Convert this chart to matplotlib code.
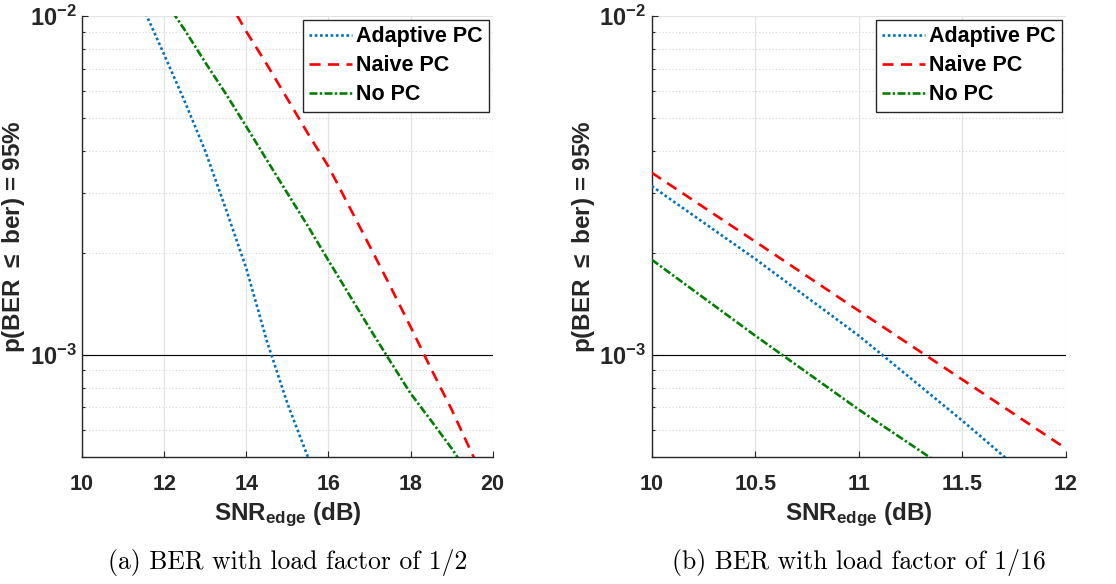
import numpy as np
import matplotlib
matplotlib.use('Agg')
import matplotlib.pyplot as plt
from matplotlib.ticker import FixedLocator, NullFormatter

plt.rcParams['font.family'] = ['Liberation Sans', 'DejaVu Sans']
plt.rcParams['font.weight'] = 'bold'
plt.rcParams['mathtext.fontset'] = 'custom'
plt.rcParams['mathtext.rm'] = 'Liberation Sans:bold'
plt.rcParams['mathtext.bf'] = 'Liberation Sans:bold'
plt.rcParams['mathtext.it'] = 'Liberation Sans:bold'

# (a) load factor 1/2
snr_a_adapt = [11.5, 12.0, 12.5, 13.0, 13.5, 14.0, 14.5, 15.0, 15.5]
ber_a_adapt = [1.05e-2, 7.7e-3, 5.6e-3, 4.0e-3, 2.7e-3, 1.8e-3, 1.1e-3, 7.2e-4, 5.0e-4]
snr_a_naive = [13.5, 14.0, 14.5, 15.0, 15.5, 16.0, 16.5, 17.0, 17.5, 18.0, 18.5, 19.0, 19.5, 20.0]
ber_a_naive = [1.15e-2, 9.0e-3, 7.2e-3, 5.7e-3, 4.5e-3, 3.6e-3, 2.75e-3, 2.1e-3, 1.6e-3,
               1.21e-3, 9.1e-4, 6.9e-4, 5.1e-4, 3.9e-4]
snr_a_nopc = [12.0, 12.5, 13.0, 13.5, 14.0, 14.5, 15.0, 15.5, 16.0, 16.5, 17.0, 17.5, 18.0,
              18.5, 19.0, 19.5]
ber_a_nopc = [1.12e-2, 9.1e-3, 7.3e-3, 5.9e-3, 4.72e-3, 3.76e-3, 3.0e-3, 2.4e-3, 1.9e-3,
              1.51e-3, 1.2e-3, 9.6e-4, 7.7e-4, 6.4e-4, 5.3e-4, 4.3e-4]

# (b) load factor 1/16
snr_b = [10.0, 10.5, 11.0, 11.5, 12.0]
ber_b_adapt = [3.15e-3, 1.92e-3, 1.14e-3, 6.4e-4, 3.5e-4]
ber_b_naive = [3.45e-3, 2.16e-3, 1.35e-3, 8.46e-4, 5.3e-4]
ber_b_nopc = [1.91e-3, 1.14e-3, 6.9e-4, 4.3e-4, 2.6e-4]

target = 1e-3
labels = ['Adaptive PC', 'Naive PC', 'No PC']
captions = ['(a) BER with load factor of 1/2', '(b) BER with load factor of 1/16']

blue = '#0072BD'
red = '#FF0000'
green = '#008000'
dark = '#262626'

fig = plt.figure(figsize=(11.16, 5.84), dpi=100)
ax1 = fig.add_axes([0.0735, 0.2175, 0.368, 0.755])
ax2 = fig.add_axes([0.584, 0.2175, 0.371, 0.755])


def style(ax, xlim, xticks, xticklabels):
    ax.set_yscale('log')
    ax.set_xlim(*xlim)
    ax.set_ylim(5e-4, 1e-2)
    ax.set_xticks(xticks)
    ax.set_xticklabels(xticklabels, fontsize=15.5, fontweight='bold')
    ax.set_yticks([1e-3, 1e-2])
    ax.set_yticklabels([r'$\mathbf{10^{-3}}$', r'$\mathbf{10^{-2}}$'], fontsize=17)
    ax.yaxis.set_minor_locator(FixedLocator([5e-4, 6e-4, 7e-4, 8e-4, 9e-4] +
                                            [k * 1e-3 for k in range(2, 10)]))
    ax.yaxis.set_minor_formatter(NullFormatter())
    ax.grid(True, which='major', axis='x', color='#e3e3e3', lw=0.9, ls='-')
    ax.grid(True, which='major', axis='y', color='#e3e3e3', lw=0.9, ls='-')
    ax.grid(True, which='minor', axis='y', color='#d6d6d6', lw=0.8, ls=(0, (1, 2)))
    ax.set_axisbelow(True)
    ax.tick_params(which='both', direction='in', colors=dark, labelcolor=dark,
                   length=4, width=0.8)
    ax.tick_params(which='minor', length=2.5)
    ax.tick_params(axis='x', pad=12)
    ax.tick_params(axis='y', pad=4)
    for s in ['top', 'right']:
        ax.spines[s].set_visible(False)
    for s in ['left', 'bottom']:
        ax.spines[s].set_color(dark)
        ax.spines[s].set_linewidth(1.0)
    ax.axhline(target, color='black', lw=0.8, zorder=2)
    ax.set_xlabel(r'SNR$_{\mathbf{edge}}$ (dB)', fontsize=17.5, fontweight='bold',
                  labelpad=4, color=dark)
    ax.set_ylabel(r'p(BER $\leq$ ber) = 95%', fontsize=17.5, fontweight='bold',
                  labelpad=2, color=dark)


def curves(ax, xa, ya, xn, yn, xo, yo):
    ax.plot(xa, ya, color=blue, lw=1.9, ls=(0, (1, 1.0)), label=labels[0], zorder=3)
    ax.plot(xn, yn, color=red, lw=1.9, ls=(0, (4.2, 2.8)), label=labels[1], zorder=3)
    ax.plot(xo, yo, color=green, lw=1.9, ls=(0, (3, 0.9, 0.9, 0.9)), label=labels[2], zorder=3)
    leg = ax.legend(loc='upper right', bbox_to_anchor=(0.992, 0.992), fontsize=15.5,
                    frameon=True, fancybox=False, edgecolor=dark, framealpha=1,
                    handlelength=2.0, handletextpad=0.2, borderpad=0.3,
                    labelspacing=0.38, borderaxespad=0.0)
    leg.get_frame().set_linewidth(1.0)
    for t in leg.get_texts():
        t.set_fontweight('bold')


style(ax1, (10, 20), [10, 12, 14, 16, 18, 20], ['10', '12', '14', '16', '18', '20'])
curves(ax1, snr_a_adapt, ber_a_adapt, snr_a_naive, ber_a_naive, snr_a_nopc, ber_a_nopc)

style(ax2, (10, 12), [10, 10.5, 11, 11.5, 12], ['10', '10.5', '11', '11.5', '12'])
curves(ax2, snr_b, ber_b_adapt, snr_b, ber_b_naive, snr_b, ber_b_nopc)

for ax, cap in zip([ax1, ax2], captions):
    pos = ax.get_position()
    fig.text((pos.x0 + pos.x1) / 2, 1 - 562 / 584, cap, ha='center', va='center',
             fontsize=18.5, family='cmr10', fontweight='normal')

fig.savefig('out.png', dpi=100)
